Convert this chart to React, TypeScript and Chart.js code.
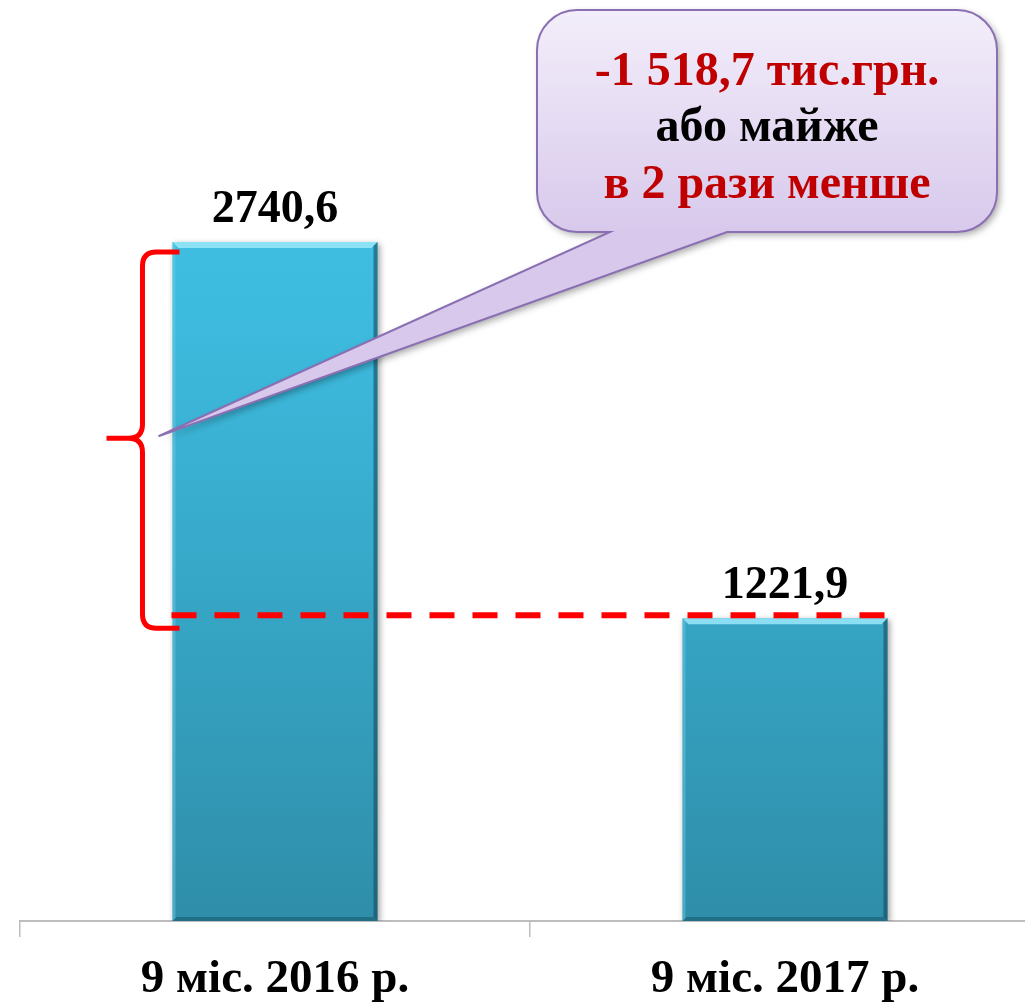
import React, { useEffect, useRef } from "react";
import { Chart, registerables } from "chart.js";
Chart.register(...registerables);

const categories = ["9 міс. 2016 р.", "9 міс. 2017 р."];
const values = [2740.6, 1221.9];
const valueLabels = ["2740,6", "1221,9"];
const calloutLines = ["-1 518,7 тис.грн.", "або майже", "в 2 рази менше"];
const calloutColors = ["#c00000", "#000000", "#c00000"];

const SERIF = '"Liberation Serif", "Times New Roman", serif';

function calloutPath(ctx: CanvasRenderingContext2D, x0: number, y0: number, x1: number, y1: number, r: number, bx0: number, bx1: number, tx: number, ty: number) {
  ctx.beginPath();
  ctx.moveTo(x0 + r, y0);
  ctx.lineTo(x1 - r, y0);
  ctx.arcTo(x1, y0, x1, y0 + r, r);
  ctx.lineTo(x1, y1 - r);
  ctx.arcTo(x1, y1, x1 - r, y1, r);
  ctx.lineTo(bx1, y1);
  ctx.lineTo(tx, ty);
  ctx.lineTo(bx0, y1);
  ctx.lineTo(x0 + r, y1);
  ctx.arcTo(x0, y1, x0, y1 - r, r);
  ctx.lineTo(x0, y0 + r);
  ctx.arcTo(x0, y0, x0 + r, y0, r);
  ctx.closePath();
}

export default function App() {
  const ref = useRef<HTMLCanvasElement>(null);
  useEffect(() => {
    const canvas = ref.current!;

    const shadowPlugin = {
      id: "barShadow",
      beforeDatasetsDraw(chart: any) {
        const ctx = chart.ctx;
        ctx.save();
        ctx.shadowColor = "rgba(0,0,0,0.35)";
        ctx.shadowBlur = 6;
        ctx.shadowOffsetX = 2;
        ctx.shadowOffsetY = 2;
      },
      afterDatasetsDraw(chart: any) {
        chart.ctx.restore();
      },
    };

    const overlay = {
      id: "overlay",
      afterDatasetsDraw(chart: any) {
        const ctx: CanvasRenderingContext2D = chart.ctx;
        const meta = chart.getDatasetMeta(0);
        const els = meta.data.map((el: any) => el.getProps(["x", "y", "width", "base"], true));

        // bevel
        els.forEach((p: any) => {
          const l = p.x - p.width / 2;
          const r = p.x + p.width / 2;
          const top = p.y;
          const base = p.base;
          const b = 6;
          ctx.save();
          ctx.fillStyle = "rgba(150,230,248,0.9)";
          ctx.beginPath();
          ctx.moveTo(l, top); ctx.lineTo(r, top); ctx.lineTo(r - b, top + b); ctx.lineTo(l + b, top + b);
          ctx.closePath(); ctx.fill();
          ctx.fillStyle = "rgba(110,205,232,0.45)";
          ctx.beginPath();
          ctx.moveTo(l, top); ctx.lineTo(l + 3, top + 3); ctx.lineTo(l + 3, base - 3); ctx.lineTo(l, base);
          ctx.closePath(); ctx.fill();
          ctx.fillStyle = "rgba(20,75,95,0.6)";
          ctx.beginPath();
          ctx.moveTo(r, top); ctx.lineTo(r, base); ctx.lineTo(r - 4, base - 4); ctx.lineTo(r - 4, top + 4);
          ctx.closePath(); ctx.fill();
          ctx.fillStyle = "rgba(20,75,95,0.45)";
          ctx.beginPath();
          ctx.moveTo(l, base); ctx.lineTo(r, base); ctx.lineTo(r - 4, base - 4); ctx.lineTo(l + 4, base - 4);
          ctx.closePath(); ctx.fill();
          ctx.restore();
        });

        // value labels
        ctx.save();
        ctx.fillStyle = "#000";
        ctx.font = `bold 46px ${SERIF}`;
        ctx.textAlign = "center";
        ctx.textBaseline = "alphabetic";
        els.forEach((p: any, i: number) => {
          ctx.fillText(valueLabels[i], p.x, p.y - 20);
        });
        ctx.restore();

        const p1 = els[0];
        const p2 = els[1];
        const l1 = p1.x - p1.width / 2;
        const r2 = p2.x + p2.width / 2;

        // dashed line at level of second bar
        ctx.save();
        ctx.strokeStyle = "#ff0000";
        ctx.lineWidth = 6;
        ctx.setLineDash([25, 18]);
        ctx.beginPath();
        ctx.moveTo(l1 - 1, p2.y - 3);
        ctx.lineTo(r2 + 13, p2.y - 3);
        ctx.stroke();
        ctx.restore();

        // brace
        const top = p1.y + 10;
        const bot = p2.y + 10;
        const mid = (top + bot) / 2 - 2;
        const bx = l1 - 30;
        const armR = l1 + 7;
        const tipX = l1 - 66;
        ctx.save();
        ctx.strokeStyle = "#ff0000";
        ctx.lineWidth = 5;
        ctx.lineJoin = "round";
        ctx.beginPath();
        ctx.moveTo(armR, top);
        ctx.lineTo(bx + 14, top);
        ctx.quadraticCurveTo(bx, top, bx, top + 14);
        ctx.lineTo(bx, mid - 14);
        ctx.quadraticCurveTo(bx, mid, bx - 14, mid);
        ctx.lineTo(tipX, mid);
        ctx.moveTo(bx - 14, mid);
        ctx.quadraticCurveTo(bx, mid, bx, mid + 14);
        ctx.lineTo(bx, bot - 14);
        ctx.quadraticCurveTo(bx, bot, bx + 14, bot);
        ctx.lineTo(armR, bot);
        ctx.stroke();
        ctx.restore();

        // callout
        const x0 = 537, y0 = 10, x1 = 997, y1 = 232;
        ctx.save();
        calloutPath(ctx, x0, y0, x1, y1, 40, 610, 727, l1 - 14, mid - 2);
        const g = ctx.createLinearGradient(0, y0, 0, y1);
        g.addColorStop(0, "#f3eefa");
        g.addColorStop(1, "#d8c9ec");
        ctx.shadowColor = "rgba(0,0,0,0.35)";
        ctx.shadowBlur = 7;
        ctx.shadowOffsetX = 3;
        ctx.shadowOffsetY = 3;
        ctx.fillStyle = g;
        ctx.fill();
        ctx.shadowColor = "transparent";
        ctx.strokeStyle = "#8a6fb3";
        ctx.lineWidth = 2;
        ctx.stroke();
        ctx.restore();

        ctx.save();
        ctx.font = `bold 48px ${SERIF}`;
        ctx.textAlign = "center";
        ctx.textBaseline = "alphabetic";
        const cx = (x0 + x1) / 2;
        const baselines = [85, 141, 198];
        calloutLines.forEach((t, i) => {
          ctx.fillStyle = calloutColors[i];
          ctx.fillText(t, cx, baselines[i]);
        });
        ctx.restore();
      },
    };

    const chart = new Chart(canvas, {
      type: "bar",
      data: {
        labels: categories,
        datasets: [
          {
            data: values,
            backgroundColor: (c: any) => {
              const ca = c.chart.chartArea;
              if (!ca) return "#3bb8dc";
              const g = c.chart.ctx.createLinearGradient(0, ca.top, 0, ca.bottom);
              g.addColorStop(0, "#42c4e6");
              g.addColorStop(0.3, "#3dbbdf");
              g.addColorStop(1, "#2f8ea9");
              return g;
            },
            borderWidth: 0,
            barPercentage: 0.402,
            categoryPercentage: 1,
          },
        ],
      },
      options: {
        responsive: false,
        animation: false,
        devicePixelRatio: 1,
        layout: { padding: { left: 20, top: 54, right: 0, bottom: 0 } },
        plugins: { legend: { display: false }, tooltip: { enabled: false } },
        scales: {
          x: {
            offset: true,
            grid: { display: true, drawOnChartArea: false, drawTicks: true, tickLength: 16, color: "#bdbdbd", lineWidth: 1.5, offset: true },
            border: { display: true, color: "#bdbdbd", width: 2 },
            ticks: { color: "#000", font: { family: SERIF, size: 47, weight: "bold" }, padding: 15 },
            afterFit: (s: any) => { s.height = 82; },
          },
          y: { display: false, min: 0, max: 3500 },
        },
      },
      plugins: [shadowPlugin, overlay],
    } as any);
    return () => chart.destroy();
  }, []);

  return (
    <div style={{ position: "absolute", left: 0, top: 0, width: 1025, height: 1003, overflow: "hidden", background: "#fff" }}>
      <canvas ref={ref} width={1040} height={1003} style={{ display: "block" }} />
    </div>
  );
}
